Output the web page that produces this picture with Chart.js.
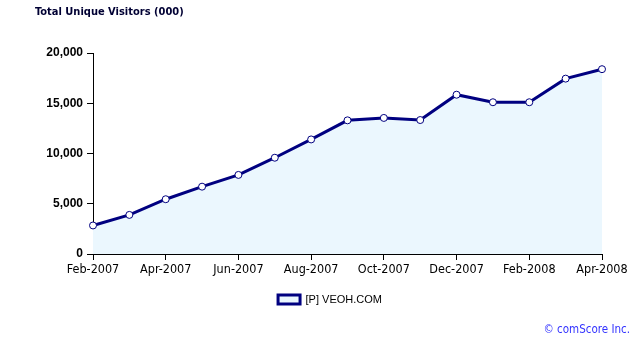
<!DOCTYPE html>
<html>
<head>
<meta charset="utf-8">
<script src="https://cdn.jsdelivr.net/npm/chart.js@4"></script>
<style>
  body { margin: 0; background: #fff; }
  #wrap { width: 641px; height: 354px; position: relative; }
</style>
</head>
<body>
<div id="wrap"><canvas id="myChart" width="641" height="354"></canvas></div>
<script>
const months = [
    'Feb-2007', 'Mar-2007', 'Apr-2007', 'May-2007', 'Jun-2007',
    'Jul-2007', 'Aug-2007', 'Sep-2007', 'Oct-2007', 'Nov-2007',
    'Dec-2007', 'Jan-2008', 'Feb-2008', 'Mar-2008', 'Apr-2008'
  ];

var visitors = [2840, 3890, 5450, 6700, 7870, 9580, 11400, 13300, 13540, 13330, 15850, 15100, 15100, 17450, 18390];
var yTicks = [0, 5000, 10000, 15000, 20000];

var seriesName = '[P] VEOH.COM'
var title = 'Total Unique Visitors (000)'
var credit = '\u00a9 comScore Inc.'

// title + credit line, drawn straight on the canvas
const textPlugin = {
    id: 'textPlugin',
    afterLayout(chart) {
        // legend sits a bit right of the canvas centre
        chart.legend.left += 29;
        chart.legend.right += 29;
    },
    afterDraw(chart) {
        const ctx = chart.ctx;
        ctx.save();
        ctx.textBaseline = 'middle';
        ctx.fillStyle = '#000033';
        ctx.font = 'bold 11px "DejaVu Sans Condensed"';
        ctx.fillText(title, 35, 12);
        ctx.fillStyle = '#3333ff';
        ctx.font = '11.5px "DejaVu Sans Condensed"';
        ctx.textAlign = 'right';
        ctx.fillText(credit, 630, 330);
        ctx.restore();
    }
};

const data = {
    labels: months,
    datasets: [{
        label: seriesName,
        data: visitors,
        borderColor: '#000080',
        backgroundColor: '#ebf7fe',
        borderWidth: 3,
        fill: 'origin',
        tension: 0,
        pointRadius: 3.5,
        pointBackgroundColor: '#ffffff',
        pointBorderColor: '#000080',
        pointBorderWidth: 1
    }]
};

const config = {
    type: 'line',
    data: data,
    plugins: [textPlugin],
    options: {
        responsive: false,
        animation: false,
        layout: { padding: { top: 53, right: 39, bottom: 39, left: 0 } },
        plugins: {
            tooltip: { enabled: false },
            legend: {
                position: 'bottom',
                labels: {
                    boxWidth: 22,
                    boxHeight: 9,
                    padding: 4,
                    color: '#000',
                    font: { family: 'Liberation Sans', size: 11 }
                }
            }
        },
        scales: {
            x: {
                offset: false,
                border: { color: '#000', width: 1 },
                grid: {
                    drawOnChartArea: false,
                    tickLength: 6,
                    color: c => (c.index % 2 === 0 ? '#000' : 'rgba(0,0,0,0)')
                },
                ticks: {
                    autoSkip: false,
                    maxRotation: 0,
                    color: '#000',
                    padding: 2,
                    font: { family: 'DejaVu Sans Condensed', size: 12.5 },
                    callback: function (v, i) { return i % 2 === 0 ? months[i] : ''; }
                },
                afterFit: s => { s.height = 36; }
            },
            y: {
                min: 0,
                max: 20000,
                afterBuildTicks: s => { s.ticks = yTicks.map(v => ({ value: v })); },
                border: { color: '#000', width: 1 },
                grid: { drawOnChartArea: false, tickLength: 6, color: '#000' },
                ticks: {
                    color: '#000',
                    padding: 4,
                    font: { family: 'Liberation Sans', size: 12, weight: 'bold' },
                    callback: v => v.toLocaleString('en-US')
                },
                afterFit: s => { s.width = 93; }
            }
        }
    }
};

const myChart = new Chart(
    document.getElementById('myChart'),
    config
);
</script>
</body>
</html>
